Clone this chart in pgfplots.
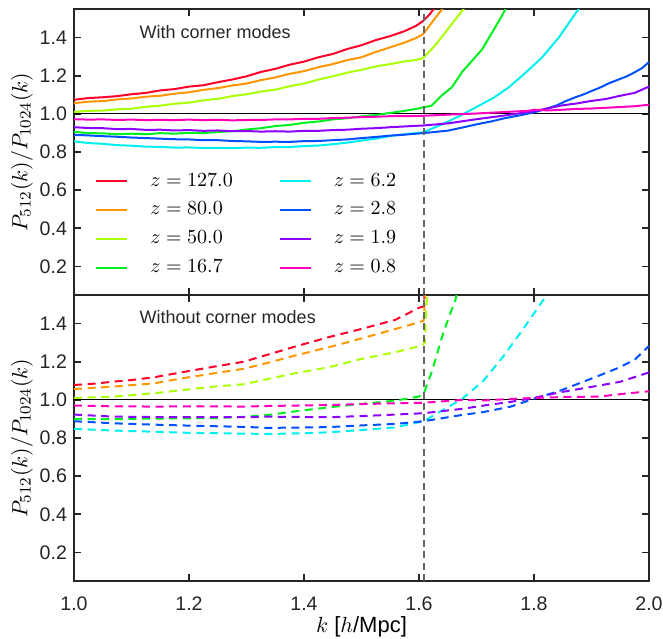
\documentclass[border=0pt]{standalone}
\usepackage{fontspec}
\setmainfont{Liberation Sans}
\usepackage{pgfplots}
\pgfplotsset{compat=1.18}
\definecolor{cA}{RGB}{255,0,40}
\definecolor{cB}{RGB}{255,150,0}
\definecolor{cC}{RGB}{170,255,0}
\definecolor{cD}{RGB}{0,240,30}
\definecolor{cE}{RGB}{0,240,240}
\definecolor{cF}{RGB}{0,80,255}
\definecolor{cG}{RGB}{140,0,255}
\definecolor{cH}{RGB}{255,0,190}
\definecolor{frm}{RGB}{38,38,38}
\pgfplotsset{
  panel/.style={
    scale only axis, width=287.5pt, height=143pt,
    xmin=1, xmax=2, ymin=0.05, ymax=1.55,
    xtick={1,1.2,1.4,1.6,1.8,2}, ytick={0.2,0.4,0.6,0.8,1.0,1.2,1.4},
    tick align=inside, xtick pos=both, ytick pos=both,
    major tick length=3.5pt,
    axis line style={frm, line width=1pt},
    every tick/.style={frm, line width=0.8pt},
    tick label style={font=\fontsize{9.8}{11}\selectfont, text=frm},
    xticklabel style={yshift=-4.5pt},
    /pgf/number format/.cd, fixed, fixed zerofill, precision=1, assume math mode=true,
    /pgfplots/.cd,
    every axis y label/.style={at={(axis description cs:-0.0905,0.5)}, rotate=90, anchor=center, font=\fontsize{11}{13}\selectfont},
    every axis x label/.style={at={(axis description cs:0.5,-0.161)}, anchor=center, font=\fontsize{11}{13}\selectfont},
    ylabel={$P_{512}(k)/P_{1024}(k)$},
  },
  sol/.style={line width=1pt, forget plot},
  das/.style={line width=1pt, dash pattern=on 4pt off 2.8pt, forget plot},
  vline/.style={black!60, line width=0.9pt, dash pattern=on 3.5pt off 2.2pt, forget plot},
}
\begin{document}
\begin{tikzpicture}
\begin{axis}[panel, name=top, xticklabels={},
  legend columns=2,
  legend style={at={(0.026,0.445)}, anchor=north west, draw=none, fill=none,
    font=\fontsize{10}{12}\selectfont, row sep=5.4pt,
    nodes={inner sep=0pt, text height=7pt, text depth=2pt},
    /tikz/every odd column/.append style={column sep=11pt},
    /tikz/every even column/.append style={column sep=23pt}},
  legend cell align=left,
  legend image code/.code={\draw[#1] (0pt,0pt) -- (15.5pt,0pt);}]
\addplot[black, line width=0.5pt, forget plot] coordinates {(1,1) (2,1)};
\addplot[sol, cA] table {
x y
1.000 1.074
1.025 1.083
1.050 1.087
1.075 1.093
1.100 1.103
1.125 1.110
1.150 1.123
1.175 1.130
1.200 1.143
1.225 1.150
1.250 1.166
1.275 1.180
1.300 1.197
1.325 1.220
1.350 1.236
1.375 1.258
1.400 1.274
1.425 1.297
1.450 1.314
1.475 1.340
1.500 1.360
1.525 1.387
1.550 1.408
1.575 1.434
1.595 1.462
1.607 1.487
1.618 1.520
1.628 1.560
};
\addplot[sol, cB] table {
x y
1.000 1.056
1.025 1.064
1.050 1.067
1.075 1.076
1.100 1.081
1.125 1.090
1.150 1.095
1.175 1.106
1.200 1.113
1.225 1.126
1.250 1.135
1.275 1.149
1.300 1.159
1.325 1.177
1.350 1.191
1.375 1.210
1.400 1.224
1.425 1.245
1.450 1.261
1.475 1.282
1.500 1.297
1.525 1.325
1.550 1.349
1.575 1.374
1.595 1.398
1.607 1.418
1.625 1.490
1.643 1.560
};
\addplot[sol, cC] table {
x y
1.000 1.010
1.025 1.016
1.050 1.017
1.075 1.024
1.100 1.027
1.125 1.037
1.150 1.043
1.175 1.053
1.200 1.059
1.225 1.071
1.250 1.079
1.275 1.093
1.300 1.103
1.325 1.117
1.350 1.127
1.375 1.145
1.400 1.159
1.425 1.180
1.450 1.197
1.475 1.216
1.500 1.231
1.525 1.249
1.550 1.261
1.575 1.275
1.595 1.283
1.607 1.292
1.630 1.366
1.652 1.452
1.675 1.540
1.680 1.560
};
\addplot[sol, cD] table {
x y
1.000 0.906
1.025 0.899
1.050 0.898
1.075 0.893
1.100 0.896
1.125 0.893
1.150 0.899
1.175 0.896
1.200 0.901
1.225 0.899
1.250 0.905
1.275 0.909
1.300 0.918
1.325 0.925
1.350 0.936
1.375 0.942
1.400 0.953
1.425 0.960
1.450 0.971
1.475 0.977
1.500 0.987
1.525 0.994
1.550 1.005
1.575 1.016
1.595 1.026
1.607 1.034
1.622 1.043
1.640 1.098
1.657 1.139
1.675 1.220
1.692 1.278
1.710 1.339
1.727 1.426
1.744 1.513
1.752 1.560
};
\addplot[sol, cE] table {
x y
1.000 0.856
1.025 0.847
1.050 0.843
1.075 0.836
1.100 0.833
1.125 0.828
1.150 0.827
1.175 0.823
1.200 0.824
1.225 0.821
1.250 0.822
1.275 0.820
1.300 0.823
1.325 0.822
1.350 0.826
1.375 0.826
1.400 0.831
1.425 0.834
1.450 0.841
1.475 0.849
1.500 0.860
1.525 0.870
1.550 0.884
1.575 0.893
1.607 0.903
1.640 0.945
1.670 0.988
1.700 1.036
1.730 1.085
1.756 1.139
1.785 1.215
1.814 1.296
1.843 1.400
1.875 1.539
1.880 1.560
};
\addplot[sol, cF] table {
x y
1.000 0.890
1.025 0.887
1.050 0.883
1.075 0.880
1.100 0.876
1.125 0.873
1.150 0.870
1.175 0.867
1.200 0.866
1.225 0.862
1.250 0.862
1.275 0.858
1.300 0.856
1.325 0.853
1.350 0.854
1.375 0.853
1.400 0.857
1.425 0.858
1.450 0.862
1.475 0.866
1.500 0.873
1.525 0.879
1.550 0.886
1.575 0.891
1.607 0.899
1.650 0.912
1.675 0.928
1.700 0.945
1.725 0.960
1.750 0.978
1.775 0.992
1.800 1.008
1.820 1.025
1.840 1.045
1.856 1.068
1.872 1.087
1.886 1.102
1.900 1.120
1.915 1.138
1.930 1.160
1.945 1.178
1.960 1.195
1.975 1.218
1.988 1.240
2.000 1.272
};
\addplot[sol, cG] table {
x y
1.000 0.930
1.025 0.926
1.050 0.925
1.075 0.920
1.100 0.921
1.125 0.916
1.150 0.917
1.175 0.913
1.200 0.915
1.225 0.911
1.250 0.913
1.275 0.909
1.300 0.910
1.325 0.907
1.350 0.909
1.375 0.907
1.400 0.911
1.425 0.911
1.450 0.915
1.475 0.917
1.500 0.922
1.525 0.925
1.550 0.930
1.575 0.934
1.607 0.939
1.650 0.950
1.700 0.972
1.750 0.992
1.800 1.014
1.825 1.030
1.850 1.045
1.875 1.055
1.900 1.068
1.925 1.078
1.950 1.095
1.975 1.110
2.000 1.143
};
\addplot[sol, cH] table {
x y
1.000 0.972
1.025 0.970
1.050 0.971
1.075 0.968
1.100 0.970
1.125 0.967
1.150 0.969
1.175 0.967
1.200 0.970
1.225 0.967
1.250 0.969
1.275 0.966
1.300 0.968
1.325 0.968
1.350 0.971
1.375 0.971
1.400 0.974
1.425 0.974
1.450 0.978
1.475 0.980
1.500 0.983
1.525 0.985
1.550 0.988
1.575 0.988
1.607 0.990
1.650 0.996
1.700 1.002
1.750 1.010
1.790 1.016
1.800 1.022
1.825 1.018
1.850 1.022
1.875 1.026
1.900 1.028
1.925 1.032
1.950 1.036
1.975 1.040
2.000 1.048
};
\addplot[vline] coordinates {(1.608,0.05) (1.608,1.55)};
\addlegendimage{cA, line width=1pt}\addlegendentry{$z=127.0$}
\addlegendimage{cE, line width=1pt}\addlegendentry{$z=6.2$}
\addlegendimage{cB, line width=1pt}\addlegendentry{$z=80.0$}
\addlegendimage{cF, line width=1pt}\addlegendentry{$z=2.8$}
\addlegendimage{cC, line width=1pt}\addlegendentry{$z=50.0$}
\addlegendimage{cG, line width=1pt}\addlegendentry{$z=1.9$}
\addlegendimage{cD, line width=1pt}\addlegendentry{$z=16.7$}
\addlegendimage{cH, line width=1pt}\addlegendentry{$z=0.8$}
\node[anchor=west, font=\fontsize{9}{11}\selectfont, text=frm] at (axis cs:1.102,1.43) {With corner modes};
\end{axis}
\begin{axis}[panel, name=bot, at={(top.south)}, anchor=north, xlabel={$k$ [$h$/Mpc]}]
\addplot[black, line width=0.5pt, forget plot] coordinates {(1,1) (2,1)};
\addplot[das, cA] table {
x y
1.000 1.078
1.035 1.085
1.070 1.096
1.100 1.104
1.140 1.119
1.190 1.146
1.245 1.175
1.295 1.200
1.338 1.238
1.385 1.280
1.443 1.329
1.500 1.372
1.559 1.420
1.600 1.483
1.608 1.490
1.610 1.560
};
\addplot[das, cB] table {
x y
1.000 1.057
1.070 1.070
1.140 1.087
1.190 1.114
1.245 1.140
1.295 1.163
1.338 1.195
1.385 1.233
1.443 1.276
1.500 1.322
1.559 1.372
1.600 1.407
1.608 1.415
1.611 1.560
};
\addplot[das, cC] table {
x y
1.000 1.010
1.070 1.017
1.140 1.035
1.190 1.052
1.245 1.070
1.295 1.082
1.338 1.110
1.385 1.140
1.443 1.171
1.500 1.215
1.559 1.250
1.605 1.285
1.610 1.300
1.614 1.560
};
\addplot[das, cD] table {
x y
1.000 0.900
1.070 0.899
1.140 0.902
1.200 0.903
1.250 0.905
1.300 0.912
1.338 0.921
1.385 0.940
1.443 0.961
1.500 0.979
1.559 0.996
1.599 1.017
1.608 1.030
1.623 1.154
1.640 1.330
1.652 1.435
1.663 1.520
1.666 1.560
};
\addplot[das, cE] table {
x y
1.000 0.848
1.070 0.839
1.140 0.833
1.200 0.827
1.300 0.823
1.338 0.821
1.400 0.825
1.443 0.830
1.500 0.842
1.559 0.856
1.608 0.888
1.640 0.944
1.675 1.005
1.712 1.100
1.745 1.222
1.779 1.362
1.822 1.550
1.823 1.560
};
\addplot[das, cF] table {
x y
1.000 0.888
1.070 0.877
1.140 0.870
1.200 0.865
1.300 0.858
1.338 0.853
1.443 0.857
1.500 0.866
1.559 0.874
1.608 0.888
1.675 0.921
1.712 0.936
1.760 0.965
1.799 1.005
1.846 1.049
1.913 1.127
1.946 1.167
1.975 1.210
2.000 1.283
};
\addplot[das, cG] table {
x y
1.000 0.923
1.070 0.912
1.140 0.910
1.200 0.909
1.300 0.909
1.338 0.912
1.443 0.909
1.500 0.915
1.559 0.923
1.608 0.930
1.675 0.953
1.712 0.970
1.760 0.990
1.799 1.010
1.846 1.040
1.913 1.075
1.950 1.095
2.000 1.144
};
\addplot[das, cH] table {
x y
1.000 0.970
1.070 0.966
1.140 0.965
1.200 0.966
1.300 0.965
1.338 0.968
1.443 0.973
1.500 0.978
1.559 0.982
1.608 0.985
1.640 0.992
1.675 1.000
1.712 0.997
1.760 1.005
1.800 1.010
1.850 1.015
1.913 1.017
1.950 1.030
2.000 1.045
};
\addplot[vline] coordinates {(1.608,0.05) (1.608,1.55)};
\node[anchor=west, font=\fontsize{9}{11}\selectfont, text=frm] at (axis cs:1.102,1.434) {Without corner modes};
\end{axis}
\pgfresetboundingbox
\path ([shift={(-37pt,4.5pt)}]top.north west) rectangle ([shift={(7pt,-28.5pt)}]bot.south east);
\end{tikzpicture}
\end{document}
